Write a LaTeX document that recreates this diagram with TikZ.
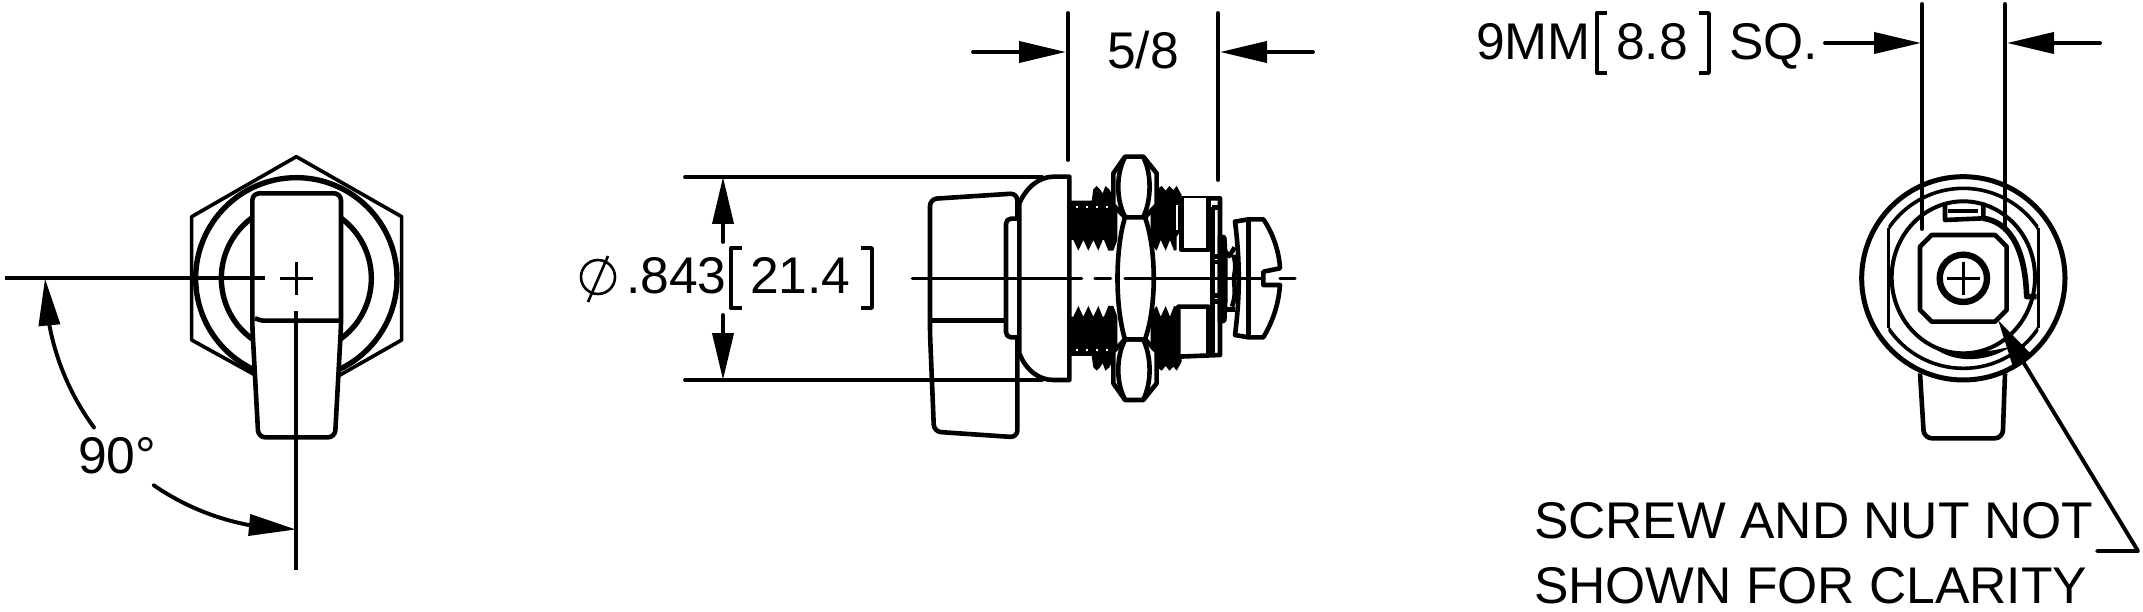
\documentclass[tikz,border=0pt]{standalone}
\usepackage{fontspec}
\setmainfont{Liberation Sans}
\usetikzlibrary{arrows.meta}
\tikzset{
  dimln/.style={line width=3.9pt,line cap=round},
  headtip/.style={-{Triangle[length=47pt,width=21pt]}},
  part/.style={line width=4.6pt,line join=round},
  partthin/.style={line width=3.6pt,line join=round},
  lbl/.style={anchor=base west,inner sep=0pt,outer sep=0pt,font=\fontsize{51.6}{51.6}\selectfont},
  brk/.style={line width=3.4pt,line join=round},
  zoomA/.style={shift={(880pt,-130pt)},x=0.33333pt,y=-0.33333pt},
  zoomB/.style={shift={(1820pt,-150pt)},x=0.33333pt,y=-0.33333pt},
  zoomC/.style={x=0.33333pt,y=-0.33333pt,shift={(0pt,-130pt)}}
}
\newcommand{\halfbody}{%
  % left thread block
  \fill[black] (572,212)--(635,212)--(640,178)--(650,168)--(660,178)--(668,190)--(676,168)--(688,178)--(700,200)--(712,240)--(712,330)--(700,362)--(685,362)--(672,330)--(668,330)--(655,362)--(640,330)--(625,362)--(610,330)--(595,362)--(580,330)--(572,330)--cycle;
  \foreach \xx in {590,620,650,680}{\fill[white] (\xx-3,228) rectangle (\xx+3,234);}
  % right thread block
  \fill[black] (812,240)--(825,190)--(835,175)--(845,168)--(857,182)--(868,168)--(880,180)--(890,168)--(905,195)--(905,300)--(890,320)--(890,360)--(882,362)--(870,330)--(857,362)--(842,330)--(830,362)--(812,340)--cycle;
  \fill[white] (887,225) rectangle (893,300);
  % hex facet
  \draw[part,fill=white] (700,130)--(735,80)--(790,80)--(830,130)--(830,225)--(795,262)--(735,262)--(700,225)--cycle;
  \draw[part] (735,82) .. controls (708,130) and (708,210) .. (735,260);
  \draw[part] (790,82) .. controls (815,130) and (815,210) .. (790,260);
}
\begin{document}
\begin{tikzpicture}[x=1pt,y=-1pt]
\useasboundingbox (0,0) rectangle (2143,612);
\fill[white] (0,0) rectangle (2143,612);

%% ---------- left view
\begin{scope}[zoomC]
  \draw[partthin] (765,735)--(575,630)--(575,260)--(889,80)--(1205,260)--(1205,630)--(1015,738);
  \draw[line width=5.4pt] (889,445) circle[radius=302];
  \draw[line width=5.4pt] (889,445) circle[radius=225];
  \draw[part,fill=white,rounded corners=7pt] (757,590)--(757,190)--(1023,190)--(1023,590)--(1005,922)--(775,922)--cycle;
  \draw[part] (765,565) .. controls (785,572) .. (800,572) -- (1018,572);
  \draw[partthin,line width=3.9pt] (15,445)--(795,445);
  \draw[partthin] (840,445)--(938,445);
  \draw[partthin] (889,395)--(889,495);
  \draw[partthin,line width=3.9pt] (889,543)--(889,1320);
\end{scope}
\coordinate (arcA) at (45,278.5);
\coordinate (arcAb) at (49.4,325);
\coordinate (arcB) at (296,529.5);
\coordinate (arcBb) at (249.4,525);
\draw[dimln] plot[domain=10:36.5,samples=25,variable=\t] ({296-251*cos(\t)},{278.5+251*sin(\t)});
\draw[dimln] plot[domain=55.4:80,samples=25,variable=\t] ({296-251*cos(\t)},{278.5+251*sin(\t)});
\draw[dimln,line cap=butt,headtip] (arcAb)--(arcA);
\draw[dimln,line cap=butt,headtip] (arcBb)--(arcB);
\node[lbl] (angle) at (78,473) {90°};

%% ---------- middle view
\begin{scope}[zoomA]
  \halfbody
  \begin{scope}[shift={(0,890)},yscale=-1]
    \halfbody
  \end{scope}
  % nut waist
  \draw[part,fill=white] (735,262) .. controls (705,360) and (705,530) .. (735,628) -- (795,628) .. controls (830,530) and (830,360) .. (795,262) -- cycle;
  % knob
  \draw[part,fill=white,rounded corners=7pt] (412,190)--(150,207)--(150,610)--(162,905)--(412,922)--cycle;
  \draw[part] (152,572)--(378,572);
  \draw[part,fill=white,rounded corners=5pt] (412,266)--(378,266)--(378,622)--(412,622);
  % dome
  \draw[part,fill=white] (418,220) .. controls (440,170) and (480,140) .. (520,140) -- (568,140) -- (568,750) -- (520,750) .. controls (480,750) and (440,725) .. (418,670) -- cycle;
  % washer / plate
  \draw[part,fill=white] (905,205)--(1020,205)--(1020,675)--(895,680)--(895,530)--(985,530)--(985,680);
  \draw[part,fill=white] (905,205)--(905,360)--(985,360)--(985,205);
  \draw[part] (997,230)--(997,670);
  \draw[part] (997,232)--(1020,232);
  \draw[part] (997,380)--(1018,380);
  \draw[part] (997,396)--(1018,396);
  \draw[part] (997,497)--(1018,497);
  \draw[part] (997,514)--(1018,514);
  % lock washer
  \draw[part,fill=black] (1020,320)--(1033,322)--(1036,380)--(1036,510)--(1033,572)--(1020,575)--cycle;
  \draw[part] (1036,365)--(1048,378)--(1064,352);
  \draw[part] (1036,538)--(1064,538);
  \draw[part] (1060,375) .. controls (1072,410) and (1062,430) .. (1062,445) .. controls (1062,470) and (1070,490) .. (1056,530);
  % screw head
  \draw[part,fill=white] (1065,275)--(1105,268)--(1150,268) .. controls (1180,310) and (1198,370) .. (1200,415)--(1150,425)--(1150,465)--(1200,465) .. controls (1195,530) and (1175,580) .. (1150,622)--(1105,622)--(1065,615) .. controls (1080,500) and (1080,390) .. (1065,275)--cycle;
  \draw[line width=5.4pt] (1105,268)--(1105,622);
  % center line
  \draw[dimln,line width=3.4pt] (97,445)--(605,445);
  \draw[dimln,line width=3.4pt] (645,445)--(692,445);
  \draw[dimln,line width=3.4pt] (735,445)--(1150,445);
  \draw[dimln,line width=3.4pt] (1200,445)--(1245,445);
\end{scope}
% overall diameter
\coordinate (dTop) at (723,177);
\coordinate (dBot) at (723,380);
\draw[dimln] (685,177)--(1042,177);
\draw[dimln] (685,380)--(1042,380);
\draw[dimln] (723,225)--(723,242);
\draw[dimln] (723,331)--(723,315);
\draw[dimln,line cap=butt,headtip] (723,225)--(dTop);
\draw[dimln,line cap=butt,headtip] (723,331)--(dBot);
\draw[line width=2.6pt] (598,277) circle[radius=17];
\draw[line width=2.6pt] (608,256)--(588,302);
\node[lbl] (dia) at (626,294) {.843};
\draw[brk] (742,248)--(731,248)--(731,308)--(742,308);
\node[lbl] (diamm) at (750,294) {21.4};
\draw[brk] (861,248)--(872,248)--(872,308)--(861,308);

% 5/8 dimension
\draw[dimln] (1068,13)--(1068,160);
\draw[dimln] (1218,13)--(1218,180);
\draw[dimln] (973,52)--(1020,52);
\draw[dimln] (1313,52)--(1268,52);
\coordinate (tipA) at (1066,52);
\coordinate (tipB) at (1220,52);
\draw[dimln,line cap=butt,headtip] (1020,52)--(tipA);
\draw[dimln,line cap=butt,headtip] (1266,52)--(tipB);
\node[lbl] (depth) at (1107,69) {5/8};

%% ---------- right view
\begin{scope}[zoomB]
  \draw[line width=5pt] (430,385) circle[radius=305];
  \begin{scope}
    \clip (205,0) rectangle (655,800);
    \draw[line width=3.6pt] (430,385) circle[radius=270];
  \end{scope}
  \draw[line width=3.6pt] (205,235)--(205,535);
  \draw[line width=3.6pt] (655,235)--(655,535);
  \draw[line width=4pt] (430,382) ellipse[x radius=215,y radius=228];
  \fill[black] (340,592) .. controls (400,640) and (500,640) .. (575,588) .. controls (500,612) and (400,612) .. (340,592) -- cycle;
  \draw[part,line width=5.6pt] (490,205) .. controls (560,215) and (615,280) .. (620,440) -- (650,440);
  \draw[part] (375,158)--(375,210)--(490,205)--(490,158);
  \draw[partthin] (385,183)--(475,183);
  \draw[part] (335,255)--(525,255)--(560,290)--(560,480)--(525,515)--(335,515)--(300,480)--(300,290)--cycle;
  \draw[line width=6.4pt] (430,385) circle[radius=71];
  \draw[partthin] (380,385)--(480,385);
  \draw[partthin] (430,335)--(430,435);
  \draw[part,rounded corners=8pt] (300,670)--(312,865)--(548,865)--(555,670);
\end{scope}
\draw[dimln] (1922,4)--(1922,229);
\draw[dimln] (2005,4)--(2005,230);
\draw[dimln] (1825,43)--(1876,43);
\draw[dimln] (2100,43)--(2053,43);
\coordinate (tipC) at (1921,43);
\coordinate (tipD) at (2007,43);
\draw[dimln,line cap=butt,headtip] (1874,43)--(tipC);
\draw[dimln,line cap=butt,headtip] (2054,43)--(tipD);
\node[lbl] (sq) at (1476,60) {9MM};
\draw[brk] (1607,13)--(1597,13)--(1597,73)--(1607,73);
\node[lbl] (sqmm) at (1616,60) {8.8};
\draw[brk] (1699,13)--(1709,13)--(1709,73)--(1699,73);
\node[lbl] (sqb) at (1729,60) {SQ.};
% leader
\coordinate (lTip) at (1998,320);
\coordinate (lBase) at (2022,360);
\coordinate (lCorner) at (2138,551);
\coordinate (lEnd) at (2097,551);
\draw[dimln,line join=round] (lBase)--(lCorner)--(lEnd);
\draw[dimln,line cap=butt,headtip] (lBase)--(lTip);
\node[lbl] (note1) at (1534,538) {SCREW AND NUT NOT};
\node[lbl] (note2) at (1534,603) {SHOWN FOR CLARITY};
\end{tikzpicture}
\end{document}
